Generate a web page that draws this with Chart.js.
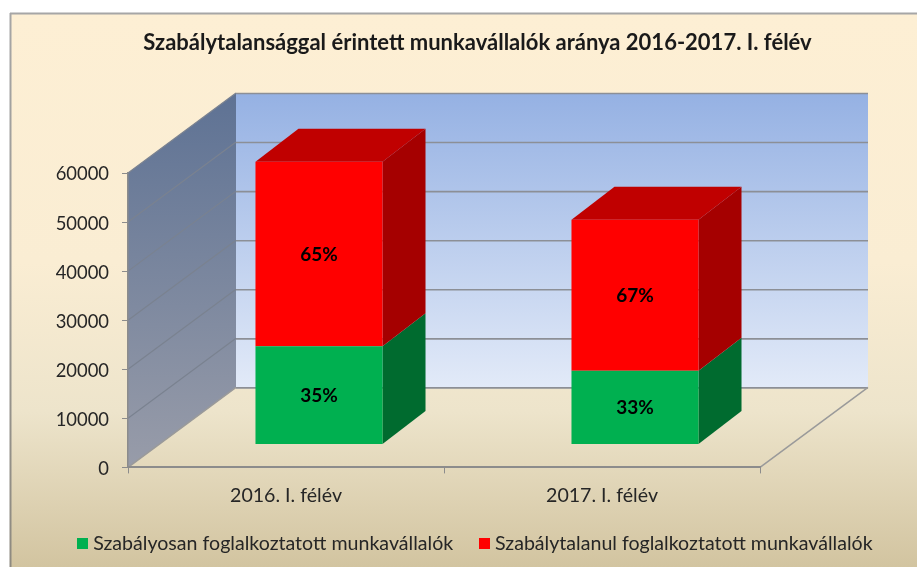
<!DOCTYPE html>
<html><head><meta charset="utf-8">
<style>html,body{margin:0;padding:0;background:#fff;overflow:hidden}canvas{display:block;filter:blur(.4px)}</style>
<script src="https://cdn.jsdelivr.net/npm/chart.js@4"></script>
</head><body><canvas id="c" width="917" height="567"></canvas>
<script>
const titleText = 'Szabálytalansággal érintett munkavállalók aránya 2016-2017. I. félév';
const categories = ['2016. I. félév', '2017. I. félév'];
const seriesRegularName = 'Szabályosan foglalkoztatott munkavállalók';
const seriesIrregularName = 'Szabálytalanul foglalkoztatott munkavállalók';
const seriesRegular = [20000, 15000];
const seriesIrregular = [37600, 30800];
const labelsRegular = ['35%', '33%'];
const labelsIrregular = ['65%', '67%'];
const colorRegular = '#00B050';
const colorIrregular = '#FF0000';

const WALL = {dx: 108, dy: -80};
const BAR_SHIFT = {dx: 33, dy: -23};
const BAR_DEPTH = {dx: 43, dy: -33};
const FONT = 'Lato, Carlito, sans-serif';

function poly(ctx, pts, fill) {
  ctx.beginPath();
  pts.forEach((p, i) => i ? ctx.lineTo(p[0], p[1]) : ctx.moveTo(p[0], p[1]));
  ctx.closePath();
  ctx.fillStyle = fill;
  ctx.fill();
}
function line(ctx, x1, y1, x2, y2, color, w) {
  ctx.beginPath(); ctx.moveTo(x1, y1); ctx.lineTo(x2, y2);
  ctx.strokeStyle = color; ctx.lineWidth = w; ctx.stroke();
}
function swatch(color) {
  const c = document.createElement('canvas');
  c.width = 11; c.height = 11;
  const x = c.getContext('2d');
  x.fillStyle = color; x.fillRect(0, 0, 11, 11);
  return c;
}

const scene3d = {
  id: 'scene3d',
  beforeDraw(chart) {
    const ctx = chart.ctx, {left, right, top, bottom} = chart.chartArea, W = chart.width, H = chart.height;
    const y = chart.scales.y;
    ctx.save();
    ctx.fillStyle = '#fff'; ctx.fillRect(0, 0, W, H);
    let g = ctx.createLinearGradient(0, 13, 0, H);
    g.addColorStop(0, '#FDEFD4'); g.addColorStop(.45, '#FAEDD3'); g.addColorStop(.72, '#EDE4CB'); g.addColorStop(1, '#D2C4A0');
    ctx.fillStyle = g; ctx.fillRect(10, 13, W - 10, H - 13);
    line(ctx, 10, 13.5, W, 13.5, '#A6A6A6', 2);
    let gb = ctx.createLinearGradient(0, 13, 0, H);
    gb.addColorStop(0, '#A6A6A6'); gb.addColorStop(1, '#8E8A80');
    line(ctx, 10.5, 13, 10.5, H, gb, 2);

    const bx = left + WALL.dx, bxR = right + WALL.dx, byT = top + WALL.dy, byB = bottom + WALL.dy;
    g = ctx.createLinearGradient(0, byT, 0, byB);
    g.addColorStop(0, '#95B1E3'); g.addColorStop(1, '#E2EAF8');
    ctx.fillStyle = g; ctx.fillRect(bx, byT, bxR - bx, byB - byT);
    g = ctx.createLinearGradient(0, byT, 0, bottom);
    g.addColorStop(0, '#5E7294'); g.addColorStop(1, '#989CA9');
    poly(ctx, [[left, top], [bx, byT], [bx, byB], [left, bottom]], g);
    y.ticks.forEach(t => {
      const py = y.getPixelForValue(t.value);
      if (t.value > 0) line(ctx, left, py, bx, py + WALL.dy, '#7A8290', 1.2);
      line(ctx, bx, py + WALL.dy + .5, bxR, py + WALL.dy + .5, '#8C8F96', 1.6);
    });
    line(ctx, left, bottom, bx, byB, '#9A9A9A', 1.5);
    line(ctx, right, bottom, bxR, byB, '#9A9A9A', 1.5);
    ctx.restore();
  },
  beforeDatasetsDraw(chart) {
    const ctx = chart.ctx;
    ctx.save();
    ctx.translate(BAR_SHIFT.dx, BAR_SHIFT.dy);
    const d = BAR_DEPTH;
    const sides = ['#006B2F', '#A50000'];
    chart.data.datasets.forEach((ds, di) => {
      chart.getDatasetMeta(di).data.forEach(b => {
        const r = b.x + b.width / 2, l = b.x - b.width / 2;
        poly(ctx, [[r, b.y], [r + d.dx, b.y + d.dy], [r + d.dx, b.base + d.dy], [r, b.base]], sides[di]);
        if (di === chart.data.datasets.length - 1) {
          poly(ctx, [[l, b.y], [l + d.dx, b.y + d.dy], [r + d.dx, b.y + d.dy], [r, b.y]], '#C00000');
        }
      });
    });
  },
  afterDatasetsDraw(chart) {
    const ctx = chart.ctx;
    ctx.restore();
    ctx.save();
    ctx.font = 'bold 19px ' + FONT;
    ctx.fillStyle = '#000'; ctx.textAlign = 'center'; ctx.textBaseline = 'middle';
    [labelsRegular, labelsIrregular].forEach((labs, di) => {
      chart.getDatasetMeta(di).data.forEach((b, i) => {
        ctx.fillText(labs[i], b.x + BAR_SHIFT.dx, (b.y + b.base) / 2 + BAR_SHIFT.dy + 1);
      });
    });
    ctx.restore();
  }
};

new Chart(document.getElementById('c'), {
  type: 'bar',
  data: {
    labels: categories,
    datasets: [
      {label: seriesRegularName, data: seriesRegular, backgroundColor: colorRegular, borderWidth: 0},
      {label: seriesIrregularName, data: seriesIrregular, backgroundColor: colorIrregular, borderWidth: 0}
    ]
  },
  plugins: [scene3d],
  options: {
    responsive: false,
    animation: false,
    categoryPercentage: 1,
    barPercentage: 0.402,
    layout: {padding: {left: 38, right: 0, top: 0, bottom: 4}},
    plugins: {
      tooltip: {enabled: false},
      title: {
        display: true, text: titleText, color: '#1a1a1a',
        font: {family: FONT, size: 22, weight: 'bold', lineHeight: '24px'},
        padding: {top: 31, bottom: 118}
      },
      legend: {
        position: 'bottom',
        labels: {
          usePointStyle: true, boxWidth: 1, boxHeight: 11,
          padding: 31, color: '#262626',
          font: {family: FONT, size: 19.6},
          generateLabels(chart) {
            const items = Chart.defaults.plugins.legend.labels.generateLabels(chart);
            items.forEach((it, i) => { it.pointStyle = swatch(chart.data.datasets[i].backgroundColor); });
            return items;
          }
        }
      }
    },
    scales: {
      x: {
        stacked: true,
        afterFit(s) { s.height = 35; },
        border: {color: '#8C8C8C', width: 2},
        grid: {drawOnChartArea: false, drawTicks: true, tickLength: 6, color: '#8C8C8C'},
        ticks: {color: '#262626', padding: 11, font: {family: FONT, size: 19.6}, maxRotation: 0}
      },
      y: {
        stacked: true, min: 0, max: 60000,
        afterFit(s) { s.width = 90; },
        border: {color: '#8C8C8C', width: 1.5},
        grid: {drawOnChartArea: false, drawTicks: true, tickLength: 6, color: '#8C8C8C'},
        ticks: {stepSize: 10000, color: '#262626', padding: 13, labelOffset: 1.5, font: {family: FONT, size: 18.4}, callback: v => String(v)}
      },
      spacer: {
        position: 'right',
        afterFit(s) { s.width = 157; },
        border: {display: false}, grid: {display: false}, ticks: {display: false}
      }
    }
  }
});
</script></body></html>
